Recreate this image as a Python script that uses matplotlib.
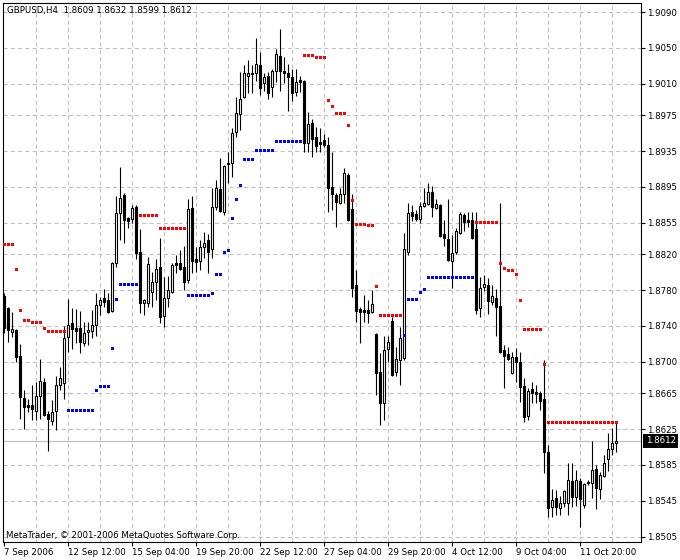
import matplotlib
matplotlib.use("Agg")
import matplotlib.pyplot as plt
import numpy as np
from matplotlib.transforms import blended_transform_factory

symbol = "GBPUSD,H4"

opens = [1.8773, 1.8760, 1.8733, 1.8735, 1.8706, 1.8660, 1.8652, 1.8652, 1.8645, 1.8662,
         1.8677, 1.8642, 1.8634, 1.8645, 1.8674, 1.8676, 1.8728, 1.8743, 1.8738, 1.8738,
         1.8721, 1.8733, 1.8734, 1.8741, 1.8763, 1.8771, 1.8769, 1.8757, 1.8810, 1.8866,
         1.8886, 1.8860, 1.8859, 1.8873, 1.8822, 1.8766, 1.8766, 1.8778, 1.8789, 1.8806,
         1.8751, 1.8771, 1.8778, 1.8810, 1.8810, 1.8806, 1.8791, 1.8871, 1.8815, 1.8812,
         1.8828, 1.8836, 1.8826, 1.8873, 1.8893, 1.8867, 1.8922, 1.8922, 1.8956, 1.8976,
         1.8995, 1.9019, 1.9021, 1.9022, 1.9031, 1.9011, 1.9019, 1.9006, 1.9024, 1.9041,
         1.9024, 1.9022, 1.9017, 1.9001, 1.9014, 1.9013, 1.8944, 1.8966, 1.8951, 1.8945,
         1.8947, 1.8942, 1.8895, 1.8886, 1.8877, 1.8887, 1.8908, 1.8870, 1.8786, 1.8759,
         1.8758, 1.8758, 1.8755, 1.8731, 1.8689, 1.8654, 1.8714, 1.8745, 1.8689, 1.8702,
         1.8704, 1.8822, 1.8867, 1.8865, 1.8859, 1.8874, 1.8876, 1.8889, 1.8871, 1.8875,
         1.8842, 1.8837, 1.8812, 1.8822, 1.8844, 1.8864, 1.8858, 1.8858, 1.8848, 1.8760,
         1.8783, 1.8786, 1.8767, 1.8771, 1.8762, 1.8713, 1.8709, 1.8687, 1.8705, 1.8700,
         1.8673, 1.8640, 1.8670, 1.8666, 1.8665, 1.8658, 1.8599, 1.8538, 1.8548, 1.8537,
         1.8543, 1.8543, 1.8567, 1.8549, 1.8567, 1.8540, 1.8566, 1.8565, 1.8580, 1.8558,
         1.8573, 1.8592, 1.8603, 1.8609]

highs = [1.8777, 1.8761, 1.8755, 1.8737, 1.8720, 1.8668, 1.8658, 1.8674, 1.8677, 1.8703,
         1.8682, 1.8645, 1.8657, 1.8684, 1.8694, 1.8740, 1.8770, 1.8760, 1.8759, 1.8757,
         1.8744, 1.8744, 1.8758, 1.8777, 1.8772, 1.8781, 1.8777, 1.8811, 1.8885, 1.8917,
         1.8888, 1.8861, 1.8875, 1.8875, 1.8848, 1.8770, 1.8817, 1.8800, 1.8815, 1.8838,
         1.8794, 1.8796, 1.8810, 1.8819, 1.8825, 1.8829, 1.8881, 1.8885, 1.8828, 1.8836,
         1.8845, 1.8842, 1.8894, 1.8903, 1.8927, 1.8919, 1.8934, 1.8961, 1.8995, 1.9023,
         1.9031, 1.9036, 1.9031, 1.9061, 1.9045, 1.9022, 1.9023, 1.9026, 1.9049, 1.9071,
         1.9040, 1.9032, 1.9026, 1.9026, 1.9019, 1.9014, 1.8978, 1.8971, 1.8962, 1.8961,
         1.8954, 1.8951, 1.8934, 1.8888, 1.8894, 1.8916, 1.8910, 1.8887, 1.8802, 1.8761,
         1.8774, 1.8769, 1.8780, 1.8732, 1.8710, 1.8729, 1.8729, 1.8750, 1.8716, 1.8739,
         1.8844, 1.8877, 1.8875, 1.8869, 1.8878, 1.8894, 1.8899, 1.8896, 1.8882, 1.8876,
         1.8858, 1.8882, 1.8841, 1.8849, 1.8867, 1.8866, 1.8867, 1.8867, 1.8867, 1.8794,
         1.8797, 1.8793, 1.8786, 1.8781, 1.8877, 1.8719, 1.8716, 1.8711, 1.8715, 1.8711,
         1.8682, 1.8671, 1.8677, 1.8674, 1.8667, 1.8702, 1.8607, 1.8558, 1.8557, 1.8550,
         1.8557, 1.8587, 1.8587, 1.8579, 1.8570, 1.8565, 1.8568, 1.8612, 1.8585, 1.8577,
         1.8596, 1.8621, 1.8626, 1.8632]

lows = [1.8732, 1.8722, 1.8728, 1.8700, 1.8636, 1.8625, 1.8644, 1.8635, 1.8635, 1.8636,
        1.8640, 1.8600, 1.8629, 1.8624, 1.8668, 1.8658, 1.8711, 1.8714, 1.8721, 1.8710,
        1.8718, 1.8719, 1.8726, 1.8729, 1.8752, 1.8761, 1.8754, 1.8755, 1.8806, 1.8836,
        1.8832, 1.8849, 1.8855, 1.8815, 1.8754, 1.8752, 1.8761, 1.8761, 1.8769, 1.8743,
        1.8739, 1.8761, 1.8777, 1.8799, 1.8802, 1.8780, 1.8788, 1.8799, 1.8800, 1.8802,
        1.8816, 1.8799, 1.8816, 1.8869, 1.8867, 1.8864, 1.8899, 1.8906, 1.8951, 1.8958,
        1.8994, 1.9000, 1.9000, 1.9013, 1.8997, 1.9002, 1.8993, 1.8995, 1.9012, 1.9002,
        1.9011, 1.8980, 1.8991, 1.8996, 1.9001, 1.8934, 1.8934, 1.8928, 1.8934, 1.8934,
        1.8939, 1.8867, 1.8869, 1.8850, 1.8876, 1.8877, 1.8857, 1.8772, 1.8744, 1.8721,
        1.8744, 1.8743, 1.8754, 1.8663, 1.8629, 1.8635, 1.8700, 1.8684, 1.8684, 1.8674,
        1.8702, 1.8819, 1.8857, 1.8857, 1.8855, 1.8873, 1.8875, 1.8861, 1.8870, 1.8839,
        1.8829, 1.8812, 1.8782, 1.8820, 1.8842, 1.8846, 1.8850, 1.8837, 1.8753, 1.8750,
        1.8779, 1.8753, 1.8763, 1.8729, 1.8710, 1.8671, 1.8702, 1.8686, 1.8677, 1.8655,
        1.8633, 1.8635, 1.8654, 1.8654, 1.8646, 1.8576, 1.8527, 1.8527, 1.8529, 1.8529,
        1.8538, 1.8529, 1.8538, 1.8539, 1.8516, 1.8537, 1.8563, 1.8548, 1.8536, 1.8547,
        1.8571, 1.8578, 1.8596, 1.8599]

closes = [1.8738, 1.8735, 1.8737, 1.8705, 1.8661, 1.8650, 1.8650, 1.8647, 1.8662, 1.8679,
          1.8641, 1.8636, 1.8644, 1.8674, 1.8682, 1.8726, 1.8741, 1.8737, 1.8734, 1.8722,
          1.8732, 1.8735, 1.8741, 1.8763, 1.8769, 1.8767, 1.8755, 1.8810, 1.8866, 1.8883,
          1.8858, 1.8857, 1.8871, 1.8821, 1.8766, 1.8769, 1.8809, 1.8789, 1.8803, 1.8750,
          1.8771, 1.8780, 1.8808, 1.8808, 1.8803, 1.8789, 1.8870, 1.8812, 1.8811, 1.8828,
          1.8832, 1.8822, 1.8873, 1.8894, 1.8868, 1.8918, 1.8920, 1.8955, 1.8977, 1.8993,
          1.9022, 1.9022, 1.9022, 1.9032, 1.9005, 1.9017, 1.9000, 1.9024, 1.9043, 1.9024,
          1.9022, 1.9017, 1.9000, 1.9012, 1.9012, 1.8944, 1.8965, 1.8948, 1.8941, 1.8943,
          1.8942, 1.8894, 1.8887, 1.8878, 1.8887, 1.8910, 1.8858, 1.8782, 1.8757, 1.8755,
          1.8755, 1.8754, 1.8764, 1.8687, 1.8654, 1.8713, 1.8722, 1.8685, 1.8703, 1.8726,
          1.8826, 1.8866, 1.8863, 1.8859, 1.8874, 1.8877, 1.8889, 1.8873, 1.8876, 1.8840,
          1.8838, 1.8813, 1.8821, 1.8846, 1.8865, 1.8856, 1.8856, 1.8838, 1.8758, 1.8782,
          1.8787, 1.8768, 1.8773, 1.8761, 1.8711, 1.8706, 1.8703, 1.8705, 1.8700, 1.8672,
          1.8638, 1.8667, 1.8665, 1.8664, 1.8656, 1.8599, 1.8537, 1.8546, 1.8538, 1.8543,
          1.8556, 1.8568, 1.8549, 1.8568, 1.8547, 1.8564, 1.8565, 1.8579, 1.8559, 1.8574,
          1.8587, 1.8603, 1.8609, 1.8612]

sar = [1.8831, 1.8831, 1.8831, 1.8803, 1.8758, 1.8747, 1.8747, 1.8744, 1.8744, 1.8744,
       1.8738, 1.8734, 1.8734, 1.8734, 1.8734, 1.8734, 1.8646, 1.8646, 1.8646, 1.8646,
       1.8646, 1.8646, 1.8646, 1.8668, 1.8673, 1.8673, 1.8673, 1.8715, 1.8770, 1.8787,
       1.8787, 1.8787, 1.8787, 1.8787, 1.8864, 1.8864, 1.8864, 1.8864, 1.8864, 1.8849,
       1.8849, 1.8849, 1.8849, 1.8849, 1.8849, 1.8849, 1.8774, 1.8774, 1.8774, 1.8774,
       1.8774, 1.8774, 1.8777, 1.8798, 1.8798, 1.8822, 1.8825, 1.8860, 1.8882, 1.8897,
       1.8926, 1.8926, 1.8926, 1.8936, 1.8936, 1.8936, 1.8936, 1.8936, 1.8946, 1.8946,
       1.8946, 1.8946, 1.8946, 1.8946, 1.8946, 1.9042, 1.9042, 1.9042, 1.9040, 1.9040,
       1.9040, 1.8992, 1.8985, 1.8977, 1.8977, 1.8977, 1.8964, 1.8880, 1.8854, 1.8854,
       1.8854, 1.8852, 1.8852, 1.8784, 1.8752, 1.8752, 1.8752, 1.8752, 1.8752, 1.8752,
       1.8730, 1.8770, 1.8770, 1.8770, 1.8778, 1.8781, 1.8794, 1.8794, 1.8794, 1.8794,
       1.8794, 1.8794, 1.8794, 1.8794, 1.8794, 1.8794, 1.8794, 1.8794, 1.8856, 1.8856,
       1.8856, 1.8856, 1.8856, 1.8856, 1.8810, 1.8805, 1.8802, 1.8802, 1.8798, 1.8769,
       1.8737, 1.8737, 1.8737, 1.8737, 1.8737, 1.8697, 1.8633, 1.8633, 1.8633, 1.8633,
       1.8633, 1.8633, 1.8633, 1.8633, 1.8633, 1.8633, 1.8633, 1.8633, 1.8633, 1.8633,
       1.8633, 1.8633, 1.8633, 1.8633]

time_label_bars = [0, 16, 32, 48, 64, 80, 96, 112, 128, 144]
time_labels = ["7 Sep 2006", "12 Sep 12:00", "15 Sep 04:00", "19 Sep 20:00",
               "22 Sep 12:00", "27 Sep 04:00", "29 Sep 20:00", "4 Oct 12:00",
               "9 Oct 04:00", "11 Oct 20:00"]
price_ticks = [1.9090, 1.9050, 1.9010, 1.8975, 1.8935, 1.8895, 1.8855, 1.8820,
               1.8780, 1.8740, 1.8700, 1.8665, 1.8625, 1.8585, 1.8545, 1.8505]
copyright_text = "MetaTrader, \u00a9 2001-2006 MetaQuotes Software Corp."

plt.rcParams["font.family"] = ["DejaVu Sans"]
FS = 6.2
GRID = "#c0c0c0"

W, H = 680, 560
fig = plt.figure(figsize=(W / 100, H / 100), dpi=100)
fig.patch.set_facecolor("white")
L, R, T, B = 2.5, 641.0, 2.5, 541.5
ax = fig.add_axes([L / W, 1 - B / H, (R - L) / W, (B - T) / H])
ax.set_facecolor("white")
ax.set_xlim(-0.25, 159.375)
ax.set_ylim(1.84996, 1.91006)

o = np.array(opens); h = np.array(highs); l = np.array(lows); c = np.array(closes)
s = np.array(sar)
x = np.arange(len(o))

# grid
for v in price_ticks:
    ax.axhline(v, color=GRID, lw=0.75, dashes=(4, 3), zorder=0)
for b in range(8, 160, 8):
    ax.axvline(b, color=GRID, lw=0.75, dashes=(4, 3), zorder=0)

# current price line
ax.axhline(c[-1], color=GRID, lw=0.9, zorder=0.5)

# candles
ax.vlines(x, l, h, color="black", lw=0.8, zorder=2)
up = c >= o
ax.bar(x, np.abs(c - o), bottom=np.minimum(o, c), width=0.5,
       color=np.where(up, "white", "black"), edgecolor="black",
       linewidth=0.8, zorder=3)

# parabolic SAR dots
above = s > c
ax.plot(x[above], s[above], linestyle="none", marker="s", ms=2.16, mew=0,
        color="#ff0000", zorder=4, antialiased=False)
ax.plot(x[~above], s[~above], linestyle="none", marker="s", ms=2.16, mew=0,
        color="#0000ff", zorder=4, antialiased=False)

for sp in ax.spines.values():
    sp.set_color("black")
    sp.set_linewidth(0.8)

ax.yaxis.tick_right()
ax.set_yticks(price_ticks)
ax.set_yticklabels([f"{v:.4f}" for v in price_ticks])
ax.tick_params(axis="y", direction="out", length=3, width=0.8, pad=1.5,
               labelsize=FS, colors="black")
ax.set_xticks(time_label_bars)
ax.set_xticklabels(time_labels)
ax.tick_params(axis="x", direction="out", length=3, width=0.8, pad=1.5,
               labelsize=FS, colors="black")
for lab in ax.get_xticklabels():
    lab.set_horizontalalignment("left")

# header and copyright
header = f"{symbol}  {o[-1]:.4f} {h[-1]:.4f} {l[-1]:.4f} {c[-1]:.4f}"
fig.text(7 / W, 1 - 10.5 / H, header, ha="left", va="center", fontsize=FS)
fig.text(6 / W, 1 - 535 / H, copyright_text, ha="left", va="center", fontsize=FS)

# last price label
tr = blended_transform_factory(ax.transAxes, ax.transData)
ax.annotate(f"{c[-1]:.4f}", xy=(1.0, c[-1]), xycoords=tr,
            xytext=(3.3, 0), textcoords="offset points",
            ha="left", va="center", fontsize=FS, color="white",
            bbox=dict(boxstyle="square,pad=0.3", fc="black", ec="none"),
            annotation_clip=False)

fig.savefig("out.png", dpi=100, facecolor="white")
